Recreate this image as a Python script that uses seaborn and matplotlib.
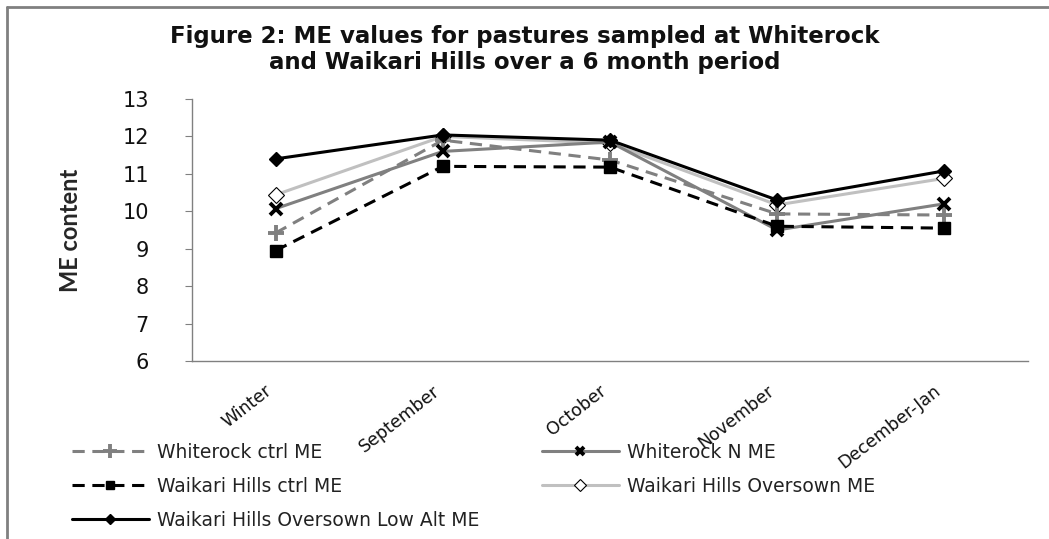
import matplotlib
matplotlib.use("Agg")
import matplotlib.pyplot as plt
import seaborn as sns
import pandas as pd
from matplotlib.lines import Line2D

categories = ["Winter", "September", "October", "November", "December-Jan"]
whiterock_ctrl = [9.42, 11.9, 11.37, 9.93, 9.9]
whiterock_n = [10.07, 11.6, 11.85, 9.5, 10.2]
waikari_ctrl = [8.95, 11.2, 11.18, 9.6, 9.55]
waikari_oversown = [10.44, 12.0, 11.82, 10.17, 10.88]
waikari_lowalt = [11.4, 12.04, 11.9, 10.3, 11.08]
series_names = ["Whiterock ctrl ME", "Whiterock N ME", "Waikari Hills ctrl ME",
                "Waikari Hills Oversown ME", "Waikari Hills Oversown Low Alt ME"]
yticks = [6, 7, 8, 9, 10, 11, 12, 13]

sns.set_theme(style="white")
plt.rcParams['font.family'] = ['DejaVu Sans']

fig = plt.figure(figsize=(10.49, 5.39), dpi=100)
ax = fig.add_axes([192/1049, 1-361/539, (1028-192)/1049, (361-99)/539])

styles = [
    dict(color="#808080", ls=(0, (4, 2.5)), marker="+", mfc="#808080", mec="#808080", ms=12, mew=2.8, lw=2.2, z=3),
    dict(color="#808080", ls="-", marker="x", mfc="black", mec="black", ms=8, mew=2.8, lw=2.2, z=4),
    dict(color="black", ls=(0, (4, 2.5)), marker="s", mfc="black", mec="black", ms=8, mew=1, lw=2.2, z=5),
    dict(color="#c0c0c0", ls="-", marker="D", mfc="white", mec="black", ms=8, mew=0.8, lw=2.2, z=2),
    dict(color="black", ls="-", marker="D", mfc="black", mec="black", ms=7, mew=1, lw=2.2, z=6),
]
data = [whiterock_ctrl, whiterock_n, waikari_ctrl, waikari_oversown, waikari_lowalt]

handles = []
for name, vals, st in zip(series_names, data, styles):
    df = pd.DataFrame({"cat": categories, "val": vals})
    sns.lineplot(data=df, x="cat", y="val", ax=ax, sort=False, color=st["color"],
                 linewidth=st["lw"], zorder=st["z"], legend=False)
    ln = ax.lines[-1]
    ln.set_linestyle(st["ls"])
    ln.set_marker(st["marker"])
    ln.set_markerfacecolor(st["mfc"])
    ln.set_markeredgecolor(st["mec"])
    ln.set_markersize(st["ms"])
    ln.set_markeredgewidth(st["mew"])
    handles.append(Line2D([0], [0], color=st["color"], ls=st["ls"], lw=st["lw"],
                          marker=st["marker"], mfc=st["mfc"], mec=st["mec"],
                          ms=st["ms"] * 0.8, mew=st["mew"]))

ax.set_xlim(-0.5, 4.5)
ax.set_ylim(6, 13)
ax.set_yticks(yticks)
ax.set_yticklabels([str(t) for t in yticks], fontsize=15, color="#111111")
ax.set_xticks(range(len(categories)))
ax.set_xticklabels(categories, rotation=38, ha="right", va="top", fontsize=12.5,
                   color="#111111")
ax.tick_params(axis="y", which="major", left=True, length=5, width=0.8, color="#808080", pad=26)
ax.tick_params(axis="x", which="major", bottom=False, pad=9)
for s in ["top", "right"]:
    ax.spines[s].set_visible(False)
for s in ["left", "bottom"]:
    ax.spines[s].set_color("#808080")
    ax.spines[s].set_linewidth(1.0)
ax.set_xlabel("")
ax.set_ylabel("ME content", fontsize=17, fontweight="bold", family="Lato")
ax.yaxis.set_label_coords(-110/836, 0.5)

fig.text(0.5, 1-36/539, "Figure 2: ME values for pastures sampled at Whiterock",
         ha="center", va="center", fontsize=16.5, fontweight="bold", color="#111111")
fig.text(0.5, 1-63/539, "and Waikari Hills over a 6 month period",
         ha="center", va="center", fontsize=16.5, fontweight="bold", color="#111111")

leg_kw = dict(frameon=False, fontsize=13.5, handlelength=4.1, handletextpad=0.45,
              labelspacing=0.8, borderaxespad=0, borderpad=0, labelcolor="#222222")
fig.legend([handles[0], handles[2], handles[4]],
           [series_names[0], series_names[2], series_names[4]],
           loc="upper left", bbox_to_anchor=(72/1049, 1-443/539), **leg_kw)
fig.legend([handles[1], handles[3]], [series_names[1], series_names[3]],
           loc="upper left", bbox_to_anchor=(542/1049, 1-443/539), **leg_kw)

fig.add_artist(Line2D([7/1049, 7/1049], [0, 1-7/539], color="#808080", lw=2, transform=fig.transFigure))
fig.add_artist(Line2D([7/1049, 1], [1-7/539, 1-7/539], color="#808080", lw=2, transform=fig.transFigure))

fig.savefig("out.png", dpi=100)
